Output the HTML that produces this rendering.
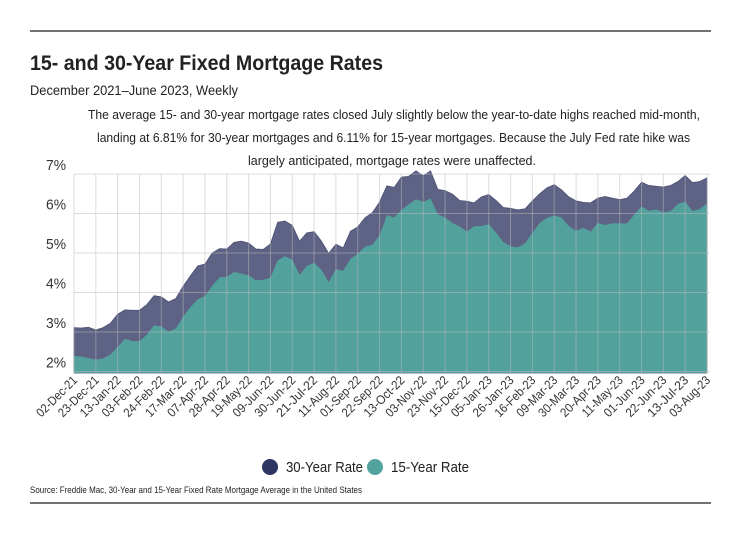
<!DOCTYPE html>
<html><head><meta charset="utf-8"><style>
body{margin:0;background:#fff;width:740px;height:533px;overflow:hidden;font-family:"Liberation Sans",sans-serif;}
</style></head><body>
<svg id="c" width="740" height="533" style="position:absolute;left:0;top:0;font-family:'Liberation Sans',sans-serif">
<line x1="30" y1="31" x2="711" y2="31" stroke="#444" stroke-width="1.5"/>
<text x="30" y="70" font-size="21" font-weight="bold" fill="#222" textLength="353" lengthAdjust="spacingAndGlyphs">15- and 30-Year Fixed Mortgage Rates</text>
<text x="30" y="95" font-size="14" fill="#222" textLength="208" lengthAdjust="spacingAndGlyphs">December 2021–June 2023, Weekly</text>
<g font-size="13" fill="#222">
<text x="88" y="119" textLength="612" lengthAdjust="spacingAndGlyphs">The average 15- and 30-year mortgage rates closed July slightly below the year-to-date highs reached mid-month,</text>
<text x="97" y="142" textLength="593" lengthAdjust="spacingAndGlyphs">landing at 6.81% for 30-year mortgages and 6.11% for 15-year mortgages. Because the July Fed rate hike was</text>
<text x="248" y="165" textLength="288" lengthAdjust="spacingAndGlyphs">largely anticipated, mortgage rates were unaffected.</text>
</g>
<g id="areas"></g><g id="grid"></g><g id="axes"></g>
<g font-size="15" fill="#222">
<circle cx="270" cy="467" r="8" fill="#2d3561"/>
<text x="286" y="472" textLength="77" lengthAdjust="spacingAndGlyphs">30-Year Rate</text>
<circle cx="375" cy="467" r="8" fill="#52a39e"/>
<text x="391" y="472" textLength="78" lengthAdjust="spacingAndGlyphs">15-Year Rate</text>
</g>
<text x="30" y="493" font-size="9" fill="#222" textLength="332" lengthAdjust="spacingAndGlyphs">Source:  Freddie Mac, 30-Year  and 15-Year Fixed Rate Mortgage Average in the United States</text>
<line x1="30" y1="503" x2="711" y2="503" stroke="#444" stroke-width="1.5"/>
</svg>
<script>
const rate30=[3.11,3.10,3.12,3.05,3.11,3.22,3.45,3.56,3.55,3.55,3.69,3.92,3.89,3.76,3.85,4.16,4.42,4.67,4.72,5.00,5.11,5.10,5.27,5.30,5.25,5.10,5.09,5.23,5.78,5.81,5.70,5.30,5.51,5.54,5.30,4.99,5.22,5.13,5.55,5.66,5.89,6.02,6.29,6.70,6.66,6.92,6.94,7.08,6.95,7.08,6.61,6.58,6.49,6.33,6.31,6.27,6.42,6.48,6.33,6.15,6.13,6.09,6.12,6.32,6.50,6.65,6.73,6.60,6.42,6.32,6.28,6.27,6.39,6.43,6.39,6.35,6.39,6.57,6.79,6.71,6.69,6.67,6.71,6.81,6.96,6.78,6.81,6.90];
const rate15=[2.39,2.38,2.34,2.30,2.33,2.43,2.62,2.83,2.77,2.77,2.93,3.17,3.14,3.01,3.09,3.39,3.63,3.83,3.91,4.17,4.38,4.40,4.52,4.48,4.43,4.31,4.32,4.38,4.81,4.92,4.83,4.45,4.67,4.75,4.58,4.26,4.59,4.55,4.85,4.98,5.16,5.21,5.44,5.96,5.90,6.09,6.23,6.36,6.29,6.38,5.98,5.90,5.76,5.67,5.54,5.68,5.68,5.73,5.52,5.28,5.17,5.14,5.25,5.51,5.76,5.89,5.95,5.90,5.68,5.56,5.64,5.54,5.76,5.71,5.75,5.75,5.75,5.97,6.18,6.07,6.10,6.03,6.06,6.24,6.30,6.06,6.11,6.25];
const xLabels=["02-Dec-21","23-Dec-21","13-Jan-22","03-Feb-22","24-Feb-22","17-Mar-22","07-Apr-22","28-Apr-22","19-May-22","09-Jun-22","30-Jun-22","21-Jul-22","11-Aug-22","01-Sep-22","22-Sep-22","13-Oct-22","03-Nov-22","23-Nov-22","15-Dec-22","05-Jan-23","26-Jan-23","16-Feb-23","09-Mar-23","30-Mar-23","20-Apr-23","11-May-23","01-Jun-23","22-Jun-23","13-Jul-23","03-Aug-23"];
const yTicks=[2,3,4,5,6,7];
const NS="http://www.w3.org/2000/svg";
const X0=74,X1=707,Y7=174,PER=39.5,YB=373;
const n=rate30.length;
function x(i){return X0+(X1-X0)*i/(n-1);}
function y(v){return Y7+(7-v)*PER;}
function mk(t,a,p){const e=document.createElementNS(NS,t);for(const k in a)e.setAttribute(k,a[k]);p.appendChild(e);return e;}
const grid=document.getElementById('grid'),areas=document.getElementById('areas'),axes=document.getElementById('axes');
yTicks.forEach(v=>{
 const l=mk('line',{x1:X0,x2:X1+3,y1:y(v),y2:y(v),stroke:'#bbb','stroke-opacity':0.5,'stroke-width':1},grid);
 
 
 const t=mk('text',{x:46,y:y(v)-4,'font-size':15,fill:'#333',textLength:20,lengthAdjust:'spacingAndGlyphs'},axes);
 t.textContent=v+'%';
 
 
});
xLabels.forEach((s,k)=>{
 const xi=x(k*3);
 const l=mk('line',{x1:xi,x2:xi,y1:Y7,y2:YB,stroke:'#bbb','stroke-opacity':0.5,'stroke-width':1},grid);
 
 
 const t=mk('text',{x:xi+4,y:YB+8,'font-size':12.5,fill:'#333','text-anchor':'end',textLength:52,lengthAdjust:'spacingAndGlyphs',transform:`rotate(-45 ${xi+4} ${YB+8})`},axes);
 t.textContent=s;
 
 
});
function areaPath(arr){let d=`M${x(0)},${YB}`;arr.forEach((v,i)=>{d+=`L${x(i).toFixed(2)},${y(v).toFixed(2)}`;});return d+`L${x(n-1)},${YB}Z`;}
const a30=mk('path',{d:areaPath(rate30),fill:'#5e6385',stroke:'#4a4f72','stroke-width':0.8},areas);


const a15=mk('path',{d:areaPath(rate15),fill:'#52a19d'},areas);


</script>
</body></html>
